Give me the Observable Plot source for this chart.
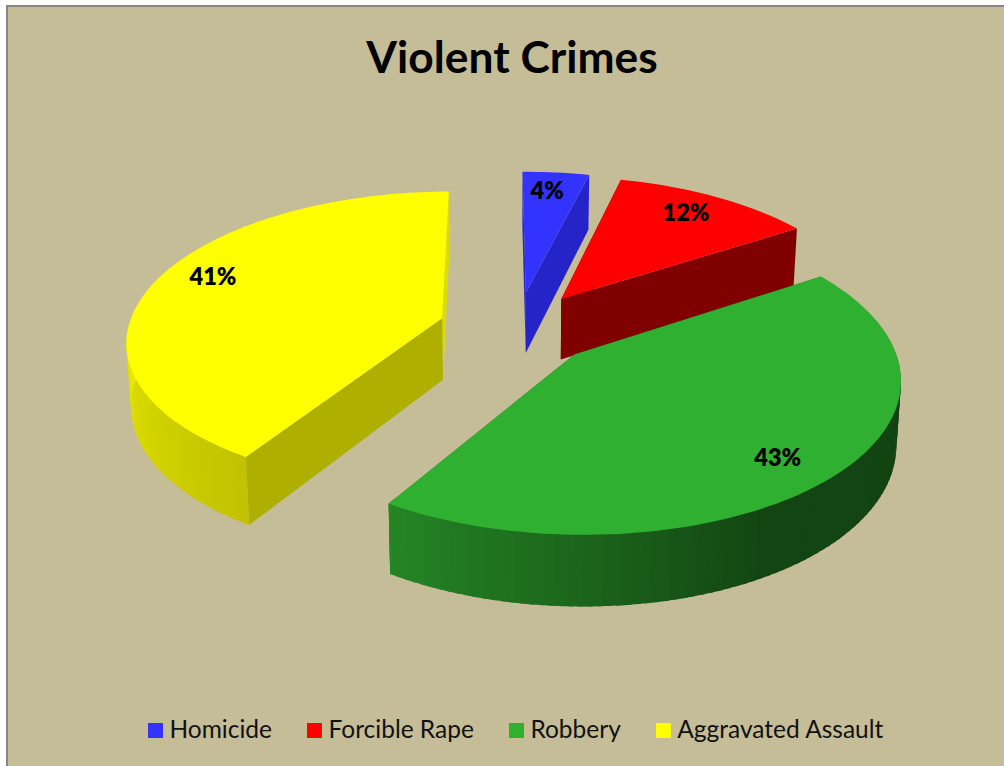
<!DOCTYPE html>
<html><head><meta charset="utf-8">
<script src="https://cdn.jsdelivr.net/npm/d3@7"></script>
<script src="https://cdn.jsdelivr.net/npm/@observablehq/plot@0.6"></script>
<style>
html,body{margin:0;padding:0;background:#fff;overflow:hidden}
#frame{position:absolute;left:6px;top:5px;width:998px;height:761px;box-sizing:border-box;border-left:2px solid #868686;border-top:2px solid #868686;background:#c4bd97;font-family:Lato,sans-serif;color:#000}
#title{height:103px;box-sizing:border-box;padding-top:20px;text-align:center;width:1008px;font-size:44.3px;font-weight:700;line-height:58px}
#plot svg{display:block;background:transparent}
#legend{display:flex;align-items:center;height:60px;padding-left:140px;font-size:24.5px;color:#111}
#legend .item{display:flex;align-items:center;margin-right:35px}
#legend .sw{width:15px;height:15px;margin-right:6.5px}
#legend span{position:relative;top:-2px}
</style></head><body>
<div id="frame"><div id="title">Violent Crimes</div><div id="plot"></div><div id="legend"></div></div>
<script>
const categories = ["Homicide", "Forcible Rape", "Robbery", "Aggravated Assault"];
const shares = [4, 12, 43, 41];
const topColors = ["#3333ff", "#ff0000", "#30b030", "#ffff00"];
const wallColors = ["#2424c8", "#800000", "#186018", "#afaf00"];
const endWallColors = ["#2424c8", "#800000", "#186018", "#dcdc00"];
const rimShadeAngles = [90, 150, 212, 270];
const rimShadeLevels = [0.38, 0.39, 0.76, 0.91];
const labelRadii = [0.82, 0.81, 0.83, 0.83];
const labelTurn = [-1, -1, 3, 5];

const cam = {cx: 516.5, cy: 327.5, A: 314, B: 147, k: 0.14, D: 62, e: 0.012, explode: 0.25, turn: -0.5};
const plotTop = 103 + 7, plotBottom = 700;

function project(u, v, z) {
  const p = 1 / (1 - cam.k * v);
  const s = 1 - cam.e * z;
  return [cam.cx + cam.A * u * p * s, cam.cy + cam.B * v * p * s + cam.D * z * p];
}
const rimShade = d3.scaleLinear(rimShadeAngles, rimShadeLevels).clamp(true);
const polys = [];
let pid = 0;
function addPoly(list, points, color) {
  const id = pid++;
  for (const [x, y] of points) list.push({x, y, id, color});
}
const turnRad = cam.turn * Math.PI / 180;
const arcs = d3.pie().sort(null).startAngle(turnRad).endAngle(2 * Math.PI + turnRad)(shares);
const texts = [];
arcs.forEach((a, i) => {
  const mid = (a.startAngle + a.endAngle) / 2;
  const ox = cam.explode * Math.sin(mid), oy = -cam.explode * Math.cos(mid);
  const pt = (t, r, z) => project(ox + r * Math.sin(t), oy - r * Math.cos(t), z);
  const base = d3.rgb(topColors[i]);
  addPoly(polys, [pt(a.endAngle, 1, 0), pt(0, 0, 0), pt(0, 0, 1), pt(a.endAngle, 1, 1)], endWallColors[i]);
  addPoly(polys, [pt(a.startAngle, 1, 0), pt(0, 0, 0), pt(0, 0, 1), pt(a.startAngle, 1, 1)], wallColors[i]);
  const step = Math.PI / 120;
  for (let t = Math.max(a.startAngle, Math.PI * 0.45); t < a.endAngle; t += step) {
    const t2 = Math.min(t + step * 1.6, a.endAngle);
    if (t > Math.PI * 1.9) continue;
    const f = rimShade((t + step / 2) * 180 / Math.PI);
    const c = d3.rgb(base.r * f, base.g * f, base.b * f).formatHex();
    addPoly(polys, [pt(t, 0.97, 0), pt(t2, 0.97, 0), pt(t2, 1, 0), pt(t2, 1, 1), pt(t, 1, 1), pt(t, 1, 0)], c);
  }
  const face = [pt(0, 0, 0)];
  const n = Math.ceil((a.endAngle - a.startAngle) / (Math.PI / 120));
  for (let j = 0; j <= n; j++) face.push(pt(a.startAngle + (a.endAngle - a.startAngle) * j / n, 1, 0));
  addPoly(polys, face, topColors[i]);
  const [lx, ly] = pt(mid + labelTurn[i] * Math.PI / 180, labelRadii[i], 0);
  texts.push({x: lx, y: ly, label: shares[i] + "%"});
});

const chart = Plot.plot({
  width: 996, height: plotBottom - plotTop,
  margin: 0,
  x: {domain: [8, 1004], range: [0, 996], axis: null},
  y: {domain: [plotTop, plotBottom], range: [0, plotBottom - plotTop], axis: null},
  color: {type: "identity"},
  style: {background: "transparent"},
  marks: [
    Plot.line(polys, {x: "x", y: "y", z: "id", fill: "color", curve: "linear-closed", stroke: null}),
    Plot.text(texts, {x: "x", y: "y", text: "label", fontSize: 23.5, fontWeight: 800, fontFamily: "Lato", fill: "#000"})
  ]
});
document.getElementById("plot").append(chart);
const legend = document.getElementById("legend");
categories.forEach((c, i) => {
  const it = document.createElement("div"); it.className = "item";
  const sw = document.createElement("div"); sw.className = "sw"; sw.style.background = topColors[i];
  const tx = document.createElement("span"); tx.textContent = c;
  it.append(sw, tx); legend.append(it);
});
</script></body></html>
